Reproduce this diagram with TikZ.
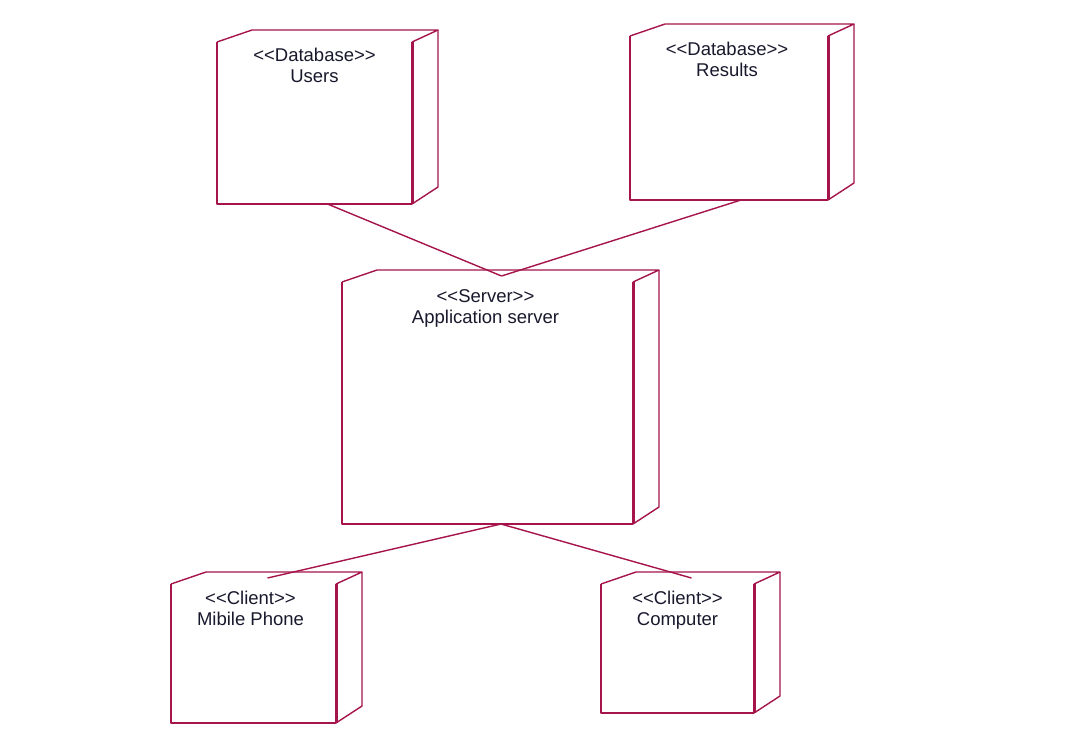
\documentclass[tikz,border=0pt]{standalone}
\usepackage{fontspec}
\newfontfamily\lblfont{Liberation Sans}
\usetikzlibrary{calc}
\definecolor{rose}{RGB}{165,20,75}
\definecolor{ink}{RGB}{25,25,45}
\newcommand{\stlo}{<\kern0pt<}
\newcommand{\stgo}{>\kern0pt>}
\newcommand{\nodebox}[1]{%
  \draw[edge] (#1.north west) -- ([xshift=35pt,yshift=12pt]#1.north west)
     -- ([xshift=26pt,yshift=12pt]#1.north east) -- (#1.north east);
  \draw[edge] ([xshift=26pt,yshift=12pt]#1.north east)
     -- ([xshift=26pt,yshift=17pt]#1.south east) -- (#1.south east);
  \draw[edge] (#1.north west) -- (#1.south west) -- (#1.south east);
  \draw[edge,line width=3pt] (#1.north east) -- (#1.south east);
}
\begin{document}
\begin{tikzpicture}[x=1pt,y=-1pt,
  edge/.style={draw=rose,line width=1.4pt,line join=round},
  face/.style={draw=none,fill=none,anchor=north west,inner sep=0pt,outer sep=0pt},
  lbl/.style={anchor=north,inner sep=0pt,text=ink,align=center,
     font=\lblfont\fontsize{18.5}{21}\selectfont},
  conn/.style={draw=rose,line width=1.4pt}]
\useasboundingbox[fill=white] (0,0) rectangle (1070,737);
% front faces
\node[face,minimum width=195pt,minimum height=162pt] (users) at (217,42) {};
\node[face,minimum width=198pt,minimum height=164pt] (results) at (630,36) {};
\node[face,minimum width=291pt,minimum height=242pt] (server) at (342,282) {};
\node[face,minimum width=165pt,minimum height=139pt] (mobile) at (171,584) {};
\node[face,minimum width=153pt,minimum height=129pt] (computer) at (601,584) {};
% 3D boxes
\nodebox{users}
\nodebox{results}
\nodebox{server}
\nodebox{mobile}
\nodebox{computer}
% labels
\node[lbl] (usersT) at ([yshift=-6pt]users.north) {\stlo Database\stgo\\Users};
\node[lbl] (resultsT) at ([xshift=-2pt,yshift=-6pt]results.north) {\stlo Database\stgo\\Results};
\node[lbl] (serverT) at ([xshift=-2pt,yshift=-7pt]server.north) {\stlo Server\stgo\\Application server};
\node[lbl] (mobileT) at ([xshift=-3pt,yshift=-7pt]mobile.north) {\stlo Client\stgo\\Mibile Phone};
\node[lbl] (computerT) at ([yshift=-7pt]computer.north) {\stlo Client\stgo\\Computer};
% connector end points
\coordinate (usersB) at ([xshift=13pt]users.south);
\coordinate (resultsB) at ([xshift=12pt]results.south);
\coordinate (serverT2) at ([xshift=14pt,yshift=6pt]server.north);
\coordinate (serverB) at ([xshift=13.5pt]server.south);
\coordinate (mobileT2) at ([xshift=14pt,yshift=6pt]mobile.north);
\coordinate (computerT2) at ([xshift=14pt,yshift=6pt]computer.north);
\draw[conn] (usersB) -- (serverT2);
\draw[conn] (resultsB) -- (serverT2);
\draw[conn] (serverB) -- (mobileT2);
\draw[conn] (serverB) -- (computerT2);
\end{tikzpicture}
\end{document}
